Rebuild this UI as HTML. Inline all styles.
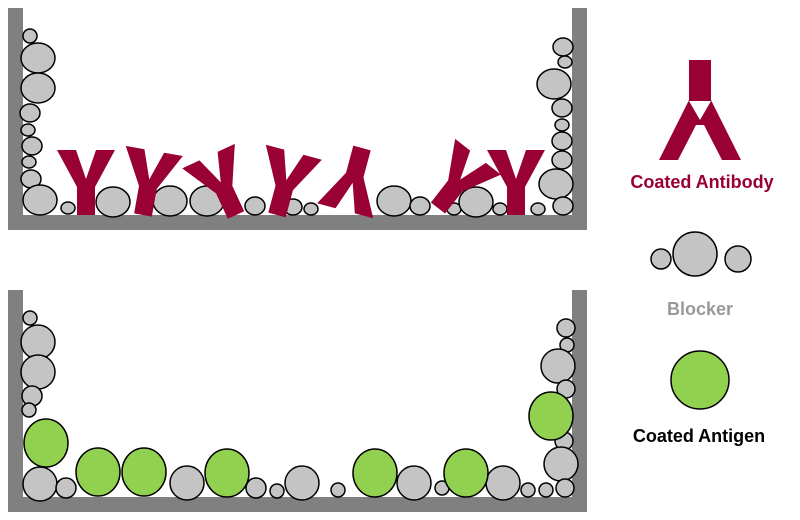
<!DOCTYPE html>
<html><head><style>body{margin:0;background:#fff}svg{display:block}</style></head><body>
<svg width="800" height="520" viewBox="0 0 800 520" xmlns="http://www.w3.org/2000/svg">
<defs>
<polygon id="Y" points="-9,0 9,0 9,-28 29,-65 10,-65 0,-36 -10,-65 -29,-65 -9,-28" fill="#990033"/>
</defs>
<g fill="#808080">
<rect x="8" y="8" width="15" height="222"/><rect x="8" y="215" width="579" height="15"/><rect x="572" y="8" width="15" height="222"/>
<rect x="8" y="290" width="15" height="222"/><rect x="8" y="497" width="579" height="15"/><rect x="572" y="290" width="15" height="222"/>
</g>
<g fill="#c4c4c4" stroke="#000" stroke-width="1.5">
<ellipse cx="30" cy="36" rx="7" ry="7"/><ellipse cx="38" cy="58" rx="17" ry="15"/><ellipse cx="38" cy="88" rx="17" ry="15"/>
<ellipse cx="30" cy="113" rx="10" ry="9"/><ellipse cx="28" cy="130" rx="7" ry="6"/><ellipse cx="32" cy="146" rx="10" ry="9"/>
<ellipse cx="29" cy="162" rx="7" ry="6"/><ellipse cx="31" cy="179" rx="10" ry="9"/><ellipse cx="40" cy="200" rx="17" ry="15"/>
<ellipse cx="68" cy="208" rx="7" ry="6"/><ellipse cx="113" cy="202" rx="17" ry="15"/><ellipse cx="170" cy="201" rx="17" ry="15"/>
<ellipse cx="207" cy="201" rx="17" ry="15"/><ellipse cx="255" cy="206" rx="10" ry="9"/><ellipse cx="293" cy="207" rx="9" ry="8"/>
<ellipse cx="311" cy="209" rx="7" ry="6"/><ellipse cx="394" cy="201" rx="17" ry="15"/><ellipse cx="420" cy="206" rx="10" ry="9"/>
<ellipse cx="454" cy="209" rx="7" ry="6"/><ellipse cx="476" cy="202" rx="17" ry="15"/><ellipse cx="500" cy="209" rx="7" ry="6"/>
<ellipse cx="538" cy="209" rx="7" ry="6"/>
<ellipse cx="563" cy="47" rx="10" ry="9"/><ellipse cx="565" cy="62" rx="7" ry="6"/><ellipse cx="554" cy="84" rx="17" ry="15"/>
<ellipse cx="562" cy="108" rx="10" ry="9"/><ellipse cx="562" cy="125" rx="7" ry="6"/><ellipse cx="562" cy="141" rx="10" ry="9"/>
<ellipse cx="562" cy="160" rx="10" ry="9"/><ellipse cx="556" cy="184" rx="17" ry="15"/><ellipse cx="563" cy="206" rx="10" ry="9"/>
</g>
<use href="#Y" transform="translate(86,215)"/>
<use href="#Y" transform="translate(143,215) rotate(10)"/>
<use href="#Y" transform="translate(236,215) rotate(-25)"/>
<use href="#Y" transform="translate(277,215) rotate(15)"/>
<use href="#Y" transform="translate(362,148) rotate(195)"/>
<use href="#Y" transform="translate(438,208) rotate(38)"/>
<use href="#Y" transform="translate(516,215)"/>
<g stroke="#000" stroke-width="1.5">
<g fill="#c4c4c4">
<circle cx="30" cy="318" r="7"/><circle cx="38" cy="342" r="17"/><circle cx="38" cy="372" r="17"/><circle cx="32" cy="396" r="10"/><circle cx="29" cy="410" r="7"/>
<circle cx="40" cy="484" r="17"/><circle cx="66" cy="488" r="10"/><circle cx="187" cy="483" r="17"/><circle cx="256" cy="488" r="10"/>
<circle cx="277" cy="491" r="7"/><circle cx="302" cy="483" r="17"/><circle cx="338" cy="490" r="7"/><circle cx="414" cy="483" r="17"/>
<circle cx="442" cy="488" r="7"/><circle cx="503" cy="483" r="17"/><circle cx="528" cy="490" r="7"/><circle cx="546" cy="490" r="7"/>
<circle cx="566" cy="328" r="9"/><circle cx="567" cy="345" r="7"/><circle cx="558" cy="366" r="17"/><circle cx="566" cy="389" r="9"/>
<circle cx="564" cy="441" r="9"/><circle cx="561" cy="464" r="17"/><circle cx="565" cy="488" r="9"/>
</g>
<g fill="#92d050">
<ellipse cx="46" cy="443" rx="22" ry="24"/><ellipse cx="98" cy="472" rx="22" ry="24"/><ellipse cx="144" cy="472" rx="22" ry="24"/>
<ellipse cx="227" cy="473" rx="22" ry="24"/><ellipse cx="375" cy="473" rx="22" ry="24"/><ellipse cx="466" cy="473" rx="22" ry="24"/>
<ellipse cx="551" cy="416" rx="22" ry="24"/>
</g>
<g fill="#c4c4c4"><circle cx="661" cy="259" r="10"/><circle cx="695" cy="254" r="22"/><circle cx="738" cy="259" r="13"/></g>
<circle cx="700" cy="380" r="29" fill="#92d050"/>
</g>
<polygon fill="#990033" points="689,60 711,60 711,100 741,160 722,160 704,125 696,125 678,160 659,160 689,100"/>
<polygon fill="#fff" points="689,101 711,101 700,120"/>
<g font-family="Liberation Sans, sans-serif" font-weight="bold" font-size="18" text-anchor="middle">
<text x="702" y="188" fill="#990033">Coated Antibody</text>
<text x="700" y="315" fill="#999">Blocker</text>
<text x="699" y="442" fill="#000">Coated Antigen</text>
</g>
</svg>
</body></html>
